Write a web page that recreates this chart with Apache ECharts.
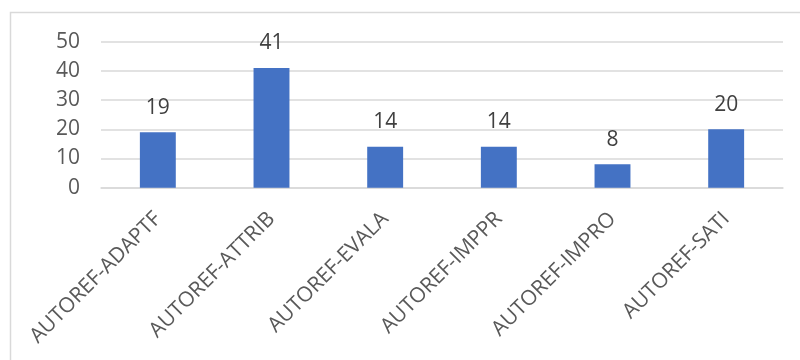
<!DOCTYPE html>
<html><head><meta charset="utf-8">
<script src="https://cdn.jsdelivr.net/npm/echarts@6/dist/echarts.min.js"></script>
<style>html,body{margin:0;padding:0;background:#fff}#c{width:800px;height:360px}</style>
</head><body><div id="c"></div>
<script>
const categories = ["AUTOREF-ADAPTF","AUTOREF-ATTRIB","AUTOREF-EVALA","AUTOREF-IMPPR","AUTOREF-IMPRO","AUTOREF-SATI"];
const values = [19, 41, 14, 14, 8, 20];
const yTicks = [0, 10, 20, 30, 40, 50];
const font = "'Open Sans', 'Noto Sans', sans-serif";
const chart = echarts.init(document.getElementById('c'));
chart.setOption({
  animation: false,
  graphic: [{type:'rect', shape:{x:10.5,y:12.5,width:900,height:500}, style:{fill:'none',stroke:'#d9d9d9',lineWidth:1.5}, silent:true}],
  grid: {left: 101, right: 17, top: 41.7, bottom: 172.3, containLabel: false},
  xAxis: {
    type: 'category', data: categories,
    axisLine: {lineStyle: {color: '#d9d9d9', width: 1.5}},
    axisTick: {show: false},
    axisLabel: {rotate: 45, color: '#595959', fontSize: 21, fontFamily: font, margin: 28, interval: 0}
  },
  yAxis: {
    type: 'value', min: yTicks[0], max: yTicks[yTicks.length-1], interval: 10,
    axisLine: {show: false}, axisTick: {show: false},
    splitLine: {lineStyle: {color: '#d9d9d9', width: 1.5}},
    axisLabel: {color: '#595959', fontSize: 21, fontFamily: font, margin: 21}
  },
  series: [{
    type: 'bar', data: values, barWidth: '31.6%',
    itemStyle: {color: '#4472C4'},
    label: {show: true, position: 'top', distance: 14, color: '#404040', fontSize: 21, fontFamily: font}
  }]
});
</script></body></html>
